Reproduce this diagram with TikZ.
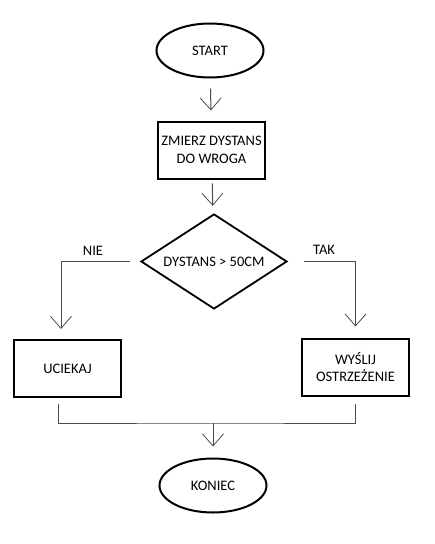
\documentclass[tikz,border=0pt]{standalone}
\usepackage{fontspec}
\setmainfont{Carlito}
\usepackage{tikz}
\usetikzlibrary{
  arrows.meta,
  shapes.geometric,
  chains,
  positioning,
  scopes
}

\begin{document}
\begin{tikzpicture}[
      x=1pt,y=-1pt,
      terminal/.style={
         ellipse,
         minimum width=107pt,
         minimum height=54pt,
         inner sep=0pt,
         line width=2pt,
         draw=black,
         font=\fontsize{14.5}{17.5}\selectfont
      },
      process/.style={
         rectangle,
         minimum width=107pt,
         minimum height=57pt,
         inner sep=0pt,
         line width=2pt,
         draw=black,
         align=center,
         font=\fontsize{14.5}{17.5}\selectfont
      },
      decision/.style={
         diamond,
         minimum width=146pt,
         minimum height=95pt,
         inner sep=0pt,
         shape aspect=1.54,
         line width=1.8pt,
         draw=black,
         font=\fontsize{14.5}{17.5}\selectfont
      },
      label/.style={font=\fontsize{14.5}{17.5}\selectfont},
      link/.style={line width=1pt,draw=black!70},
      tip/.style={link,-{Straight Barb[length=12pt,width=21pt,line width=0.8pt]}},
      every join/.style={rounded corners=0pt}
    ]
    \useasboundingbox (0,0) rectangle (435,544);
    \node (start)   [terminal] at (210,50.5)  {START};
    \node (zmierz)  [process]  at (211.5,150) {ZMIERZ DYSTANS\\DO WROGA};
    \node (dystans) [decision] at (214,261.5) {DYSTANS > 50CM};
    \node (uciekaj) [process]  at (67.5,368.5) {UCIEKAJ};
    \node (wyslij)  [process]  at (355.5,367) {WYŚLIJ\\OSTRZEŻENIE};
    \node (koniec)  [terminal] at (213,485.5) {KONIEC};
    \node (nie) [label] at (93,251) {NIE};
    \node (tak) [label] at (324,250) {TAK};
    \coordinate (merge) at (213,423);
  { [start chain]
       \chainin (start);
       \chainin (zmierz)    [join=by {tip,shorten <=10pt,shorten >=10pt}];
  }
  { [start chain]
       \chainin (zmierz);
       \chainin (dystans)   [join=by {tip,shorten <=4pt,shorten >=8pt}];
  }
  \draw [tip,shorten <=10pt,shorten >=10pt] (dystans.west) -| ([xshift=-6.5pt]uciekaj.north);
  \draw [tip,shorten <=16pt,shorten >=11pt] (dystans.east) -| (wyslij.north);
  \draw [link] ([xshift=-9.5pt,yshift=-6pt]uciekaj.south) |- (merge) -| ([yshift=-7pt]wyslij.south);
  \draw [tip,shorten >=11pt] (merge) -- (koniec);
\end{tikzpicture}
\end{document}
